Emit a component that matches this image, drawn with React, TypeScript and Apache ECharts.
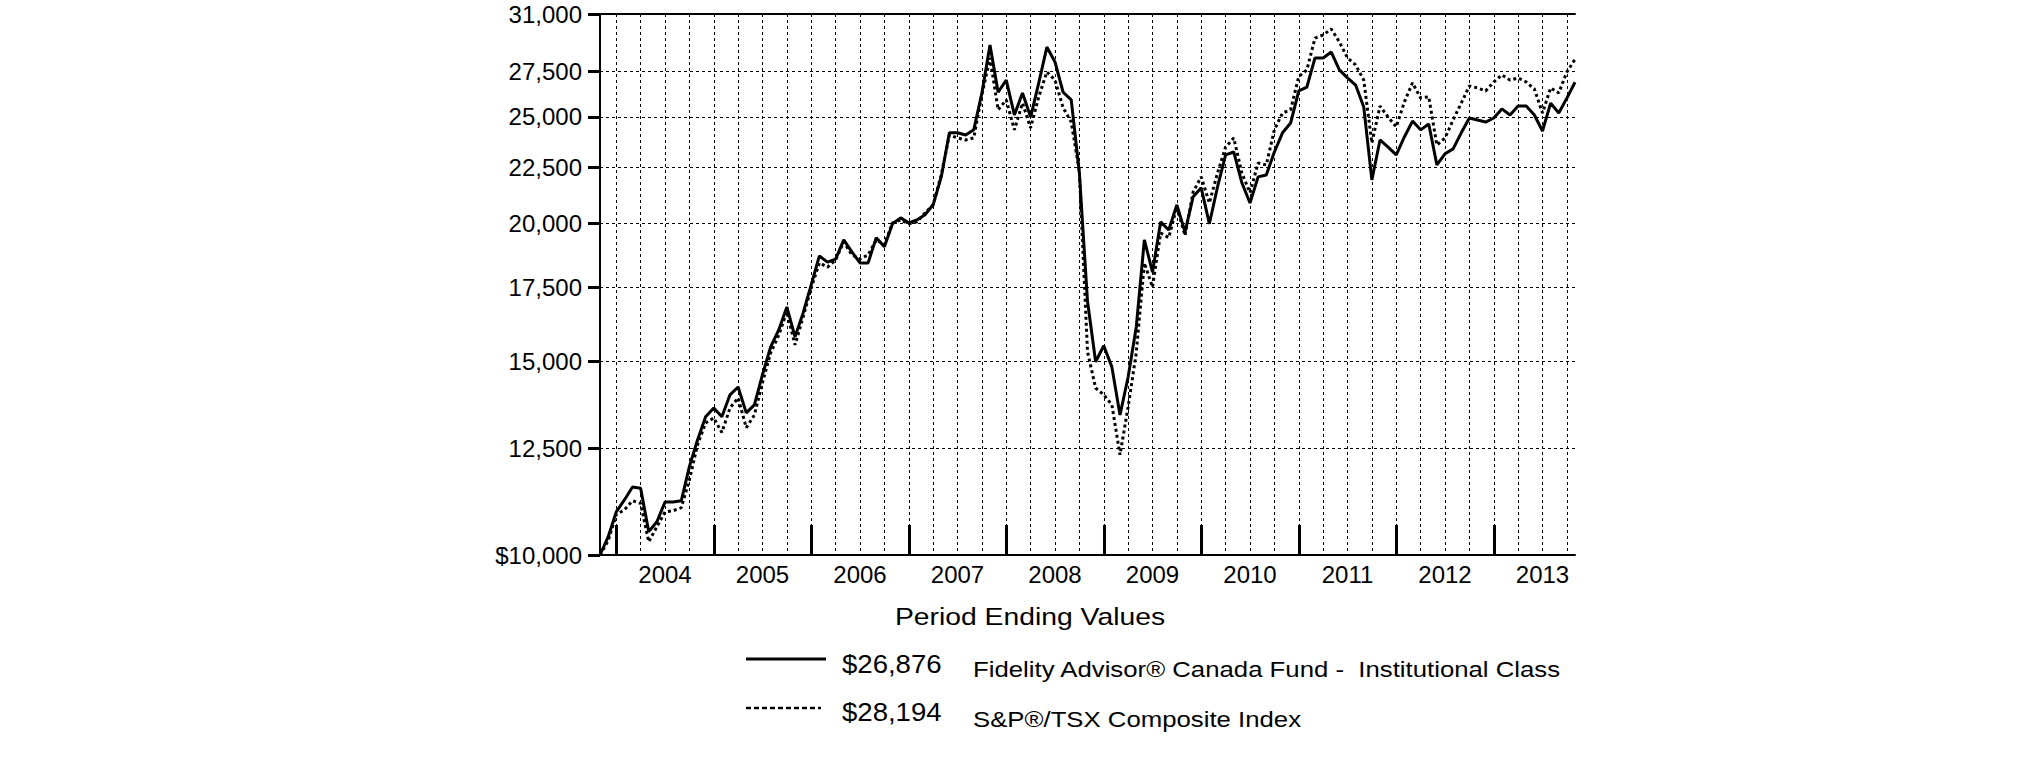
import React, { useEffect, useRef } from 'react';
import * as echarts from 'echarts';

const FONT = '"Liberation Sans", Arial, Helvetica, sans-serif';

// Month-end categories: Oct 2003 .. Oct 2013 (121 points)
const startYear = 2003;
const startMonth = 10;
const monthCount = 121;
const months: string[] = [];
for (let i = 0; i < monthCount; i++) {
  const m = startMonth - 1 + i;
  const y = startYear + Math.floor(m / 12);
  const mm = (m % 12) + 1;
  months.push(`${y}-${String(mm).padStart(2, '0')}`);
}

const yTicks = [10000, 12500, 15000, 17500, 20000, 22500, 25000, 27500, 31000];

const fundName = 'Fidelity Advisor® Canada Fund -  Institutional Class';
const indexName = 'S&P®/TSX Composite Index';
const fundEnding = '$26,876';
const indexEnding = '$28,194';
const chartTitle = 'Period Ending Values';

const fundValues = [
  10000, 10385, 10944, 11220, 11530, 11500, 10500, 10720, 11170, 11170,
  11200, 12030, 12720, 13350, 13600, 13350, 13980, 14210, 13460, 13690,
  14580, 15450, 16010, 16800, 15780, 16590, 17600, 18690, 18450, 18570,
  19330, 18850, 18420, 18420, 19420, 19050, 19990, 20240, 20030, 20150,
  20370, 20800, 22050, 24180, 24180, 24070, 24330, 26280, 29060, 26320,
  27000, 25100, 26280, 24990, 26840, 28930, 28040, 26320, 25900, 22230,
  17000, 14980, 15490, 14820, 13400, 14510, 16110, 19330, 18070, 20070,
  19730, 20800, 19650, 21150, 21550, 19990, 21590, 23090, 23230, 21780,
  20880, 22050, 22140, 23230, 24180, 24680, 26400, 26610, 28280, 28280,
  28630, 27580, 27120, 26720, 25520, 21910, 23820, 23470, 23090, 23970,
  24780, 24330, 24630, 22610, 23140, 23380, 24180, 24940, 24840, 24730,
  24940, 25420, 25100, 25570, 25570, 25100, 24270, 25730, 25200, 26000,
  26876,
];

const indexValues = [
  10000, 10300, 10880, 10990, 11200, 11140, 10280, 10610, 10940, 10970,
  11040, 11700, 12590, 13180, 13320, 12920, 13600, 13890, 13050, 13400,
  14340, 15260, 15840, 16630, 15520, 16450, 17480, 18420, 18260, 18530,
  19250, 18730, 18570, 18730, 19330, 19130, 20030, 20150, 19990, 20070,
  20450, 20800, 22140, 24070, 23920, 23820, 23920, 26170, 28280, 25370,
  25900, 24330, 25730, 24430, 26070, 27460, 27000, 25480, 24730, 22300,
  15300, 14180, 13980, 13690, 12330, 13630, 15260, 18420, 17510, 19610,
  19420, 20710, 19500, 21370, 22050, 20880, 22230, 23470, 23920, 22230,
  21330, 22700, 22610, 24330, 25200, 25370, 27200, 27580, 29480, 29670,
  30040, 29240, 28280, 27870, 27000, 23670, 25570, 24990, 24480, 25790,
  26840, 26010, 26070, 23570, 23920, 24840, 25730, 26670, 26560, 26390,
  26890, 27290, 27000, 27120, 26890, 26500, 25200, 26560, 26280, 27460,
  28194,
];

const fmtY = (v: number) => {
  const s = Math.round(v).toLocaleString('en-US');
  return v === 10000 ? '$' + s : s;
};

export default function App() {
  const ref = useRef<HTMLDivElement>(null);

  useEffect(() => {
    document.body.style.margin = '0';
    if (!ref.current) return;
    const chart = echarts.init(ref.current, null, { renderer: 'svg' });

    const textEl = (
      text: string,
      x: number,
      y: number,
      size: number,
      scaleX: number,
      align: string = 'left'
    ) => ({
      type: 'text',
      x,
      y,
      scaleX,
      style: {
        text,
        fill: '#000',
        font: `${size}px ${FONT}`,
        textAlign: align,
        align,
        textVerticalAlign: 'middle',
        verticalAlign: 'middle',
      },
    });

    chart.setOption({
      animation: false,
      backgroundColor: '#ffffff',
      textStyle: { fontFamily: FONT },
      grid: { left: 600, top: 14, right: 450, bottom: 206, containLabel: false },
      xAxis: [
        {
          type: 'category',
          data: months,
          boundaryGap: false,
          axisLine: { show: true, onZero: false, lineStyle: { color: '#000', width: 2 } },
          axisTick: {
            show: true,
            inside: true,
            length: 30,
            interval: (i: number) => i % 12 === 2,
            lineStyle: { color: '#000', width: 3 },
          },
          axisLabel: {
            show: true,
            interval: (i: number) => i % 12 === 8,
            formatter: (v: string) => v.slice(0, 4),
            color: '#000',
            fontSize: 24,
            fontFamily: FONT,
            margin: 7,
          },
          splitLine: {
            show: true,
            interval: (i: number) => i % 3 === 2,
            lineStyle: { color: '#000', width: 1, type: [3, 3] },
          },
        },
        {
          type: 'category',
          data: months,
          boundaryGap: false,
          position: 'top',
          axisLine: { show: true, onZero: false, lineStyle: { color: '#000', width: 2 } },
          axisTick: { show: false },
          axisLabel: { show: false },
          splitLine: { show: false },
        },
      ],
      yAxis: {
        type: 'log',
        logBase: 10,
        min: 10000,
        max: 31000,
        axisLine: { show: true, lineStyle: { color: '#000', width: 2 } },
        axisTick: {
          show: true,
          length: 12,
          customValues: yTicks,
          lineStyle: { color: '#000', width: 3 },
        },
        axisLabel: {
          customValues: yTicks,
          formatter: fmtY,
          color: '#000',
          fontSize: 24,
          fontFamily: FONT,
          margin: 18,
        },
        splitLine: { show: true, lineStyle: { color: '#000', width: 1, type: [3, 3] } },
      },
      series: [
        {
          name: indexName,
          type: 'line',
          data: indexValues,
          symbol: 'none',
          lineStyle: { color: '#000', width: 3, type: [3, 3] },
          z: 2,
        },
        {
          name: fundName,
          type: 'line',
          data: fundValues,
          symbol: 'none',
          lineStyle: { color: '#000', width: 3 },
          z: 3,
        },
      ],
      graphic: [
        textEl(chartTitle, 1030, 617, 24, 1.18, 'center'),
        {
          type: 'line',
          shape: { x1: 746, y1: 659, x2: 826, y2: 659 },
          style: { stroke: '#000', lineWidth: 3 },
        },
        textEl(fundEnding, 842, 664, 26, 1.06),
        textEl(fundName, 973, 669, 23, 1.12),
        {
          type: 'line',
          shape: { x1: 746, y1: 708, x2: 821, y2: 708 },
          style: { stroke: '#000', lineWidth: 2.5, lineDash: [5, 3] },
        },
        textEl(indexEnding, 842, 712, 26, 1.06),
        textEl(indexName, 973, 719, 23, 1.12),
      ],
    });

    return () => chart.dispose();
  }, []);

  return <div ref={ref} style={{ width: 2025, height: 761 }} />;
}
